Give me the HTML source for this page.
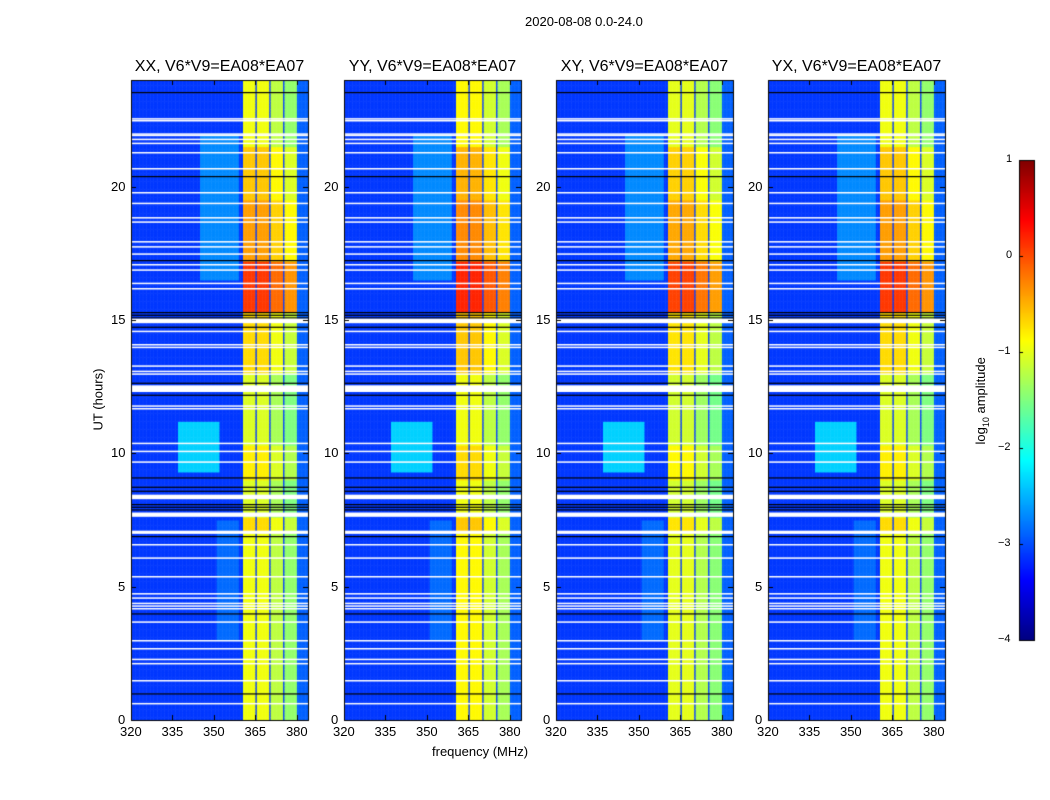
<!DOCTYPE html>
<html><head><meta charset="utf-8"><style>
body{margin:0;background:#fff;width:1050px;height:800px;position:relative;overflow:hidden;font-family:"Liberation Sans",sans-serif;}
.t{position:absolute;font-size:13px;color:#000;white-space:nowrap}
.pt{position:absolute;font-size:16px;white-space:nowrap;text-align:center;width:200px}
canvas{position:absolute}
</style></head><body>
<div class="t" style="left:525px;top:14px">2020-08-08 0.0-24.0</div>
<div class="t" style="left:58px;top:392px;transform:rotate(-90deg);width:80px;text-align:center">UT (hours)</div>
<div class="t" style="left:432px;top:744px">frequency (MHz)</div>
<div class="t" style="left:932px;top:392px;transform:rotate(-90deg);width:100px;text-align:center">log<sub style="font-size:9px">10</sub> amplitude</div>
<div id="root"></div>
<script>
const panelTitles=["XX, V6*V9=EA08*EA07","YY, V6*V9=EA08*EA07","XY, V6*V9=EA08*EA07","YX, V6*V9=EA08*EA07"];
const panelShift=[0,0.1,-0.05,0];
const freqTicks=[320,335,350,365,380];
const timeTicks=[0,5,10,15,20];
const cbarTicks=[1,0,-1,-2,-3,-4];
const bandEdges=[[360.4,365.1],[365.5,369.8],[370.5,374.9],[375.6,380]];
const bandOffsets=[0,0,-0.25,-0.45];
const backgroundLevel=-3.1;
const timeSegStart=[0,7,7.6,9,10.3,13,15.3,17.2,19.5,21.5];
const timeSegEnd=[7,7.6,9,10.3,13,15.3,17.2,19.5,21.5,24];
const timeSegLevel=[-0.95,-0.7,-1.05,-0.8,-1.05,-0.7,0.1,-0.4,-0.6,-0.95];
const haze=[[9.3,11.2,337,352,-2.35],[16.5,22,345,359,-2.7],[3,7.5,351,359,-2.85]];
const whiteFlags=[22.57,22.5,22.0,21.95,21.8,21.65,21.3,20.7,19.8,19.4,18.86,18.7,17.96,17.77,17.5,17.1,16.9,16.4,16.2,14.6,14.1,14.0,13.3,13.1,13.0,11.8,11.7,10.4,10.1,9.7,6.6,6.1,5.4,4.76,4.6,4.4,4.3,4.2,3.7,3.0,2.7,2.3,2.14,1.5,0.64];
const thickWhite=[[14.88,15.05],[12.3,12.55],[8.28,8.45],[7.62,7.78],[6.98,7.1]];
const blackFlags=[23.55,20.4,17.25,15.1,15.2,15.3,14.75,12.65,12.2,9.1,8.6,8.75,7.9,8.0,8.1,6.9,4.0,1.0];
const L=[131,344,556,768],T=80,W=177,H=640,F0=320,F1=384;
const xs=(f,i)=>L[i]+(f-F0)/(F1-F0)*W;
const ys=t=>T+H-(t/24)*H;
function jet(v){v=Math.max(0,Math.min(1,v));const r=Math.min(4*v-1.5,-4*v+4.5),g=Math.min(4*v-0.5,-4*v+3.5),b=Math.min(4*v+0.5,-4*v+2.5);const c=x=>Math.round(255*Math.max(0,Math.min(1,x)));return`rgb(${c(r)},${c(g)},${c(b)})`;}
const cn=v=>jet((v+4)/5);
function value(f,t,i){
  let v=backgroundLevel;
  if(f>380)v=-2.9;
  for(const h of haze){if(t>=h[0]&&t<h[1]&&f>=h[2]&&f<h[3])v=Math.max(v,h[4]);}
  for(let b=0;b<bandEdges.length;b++){if(f>=bandEdges[b][0]&&f<bandEdges[b][1]){let lv=-0.95;for(let s=0;s<timeSegStart.length;s++)if(t>=timeSegStart[s]&&t<timeSegEnd[s])lv=timeSegLevel[s];v=lv+bandOffsets[b]+panelShift[i];}}
  return v;
}
const root=document.getElementById('root');
for(let i=0;i<4;i++){
  const c=document.createElement('canvas');
  
  
  c.width=1050;c.height=800;c.style.left='0';c.style.top='0';
  root.appendChild(c);const g=c.getContext('2d');
  for(let f=F0;f<F1;f+=0.5){for(let t=0;t<24;t+=0.1){g.fillStyle=cn(value(f+0.25,t+0.05,i));const x0=xs(f,i),x1=xs(f+0.5,i),y0=ys(t+0.1),y1=ys(t);g.fillRect(x0,y0,x1-x0+0.5,y1-y0+0.5);}}
  g.fillStyle='#000';for(const t of blackFlags)g.fillRect(L[i],ys(t),W,1.2);
  g.fillStyle='#fff';for(const t of whiteFlags)g.fillRect(L[i],ys(t),W,1.5);
  for(const w of thickWhite)g.fillRect(L[i],ys(w[1]),W,ys(w[0])-ys(w[1]));
  g.strokeStyle='#000';g.lineWidth=1;g.strokeRect(L[i]+0.5,T+0.5,W,H);
  g.beginPath();for(const f of freqTicks){const x=Math.round(xs(f,i))+0.5;g.moveTo(x,T+H);g.lineTo(x,T+H-5);g.moveTo(x,T);g.lineTo(x,T+5);}
  for(const t of timeTicks){const y=Math.round(ys(t))+0.5;g.moveTo(L[i],y);g.lineTo(L[i]+5,y);g.moveTo(L[i]+W,y);g.lineTo(L[i]+W-5,y);}g.stroke();
  const ti=document.createElement('div');ti.className='pt';ti.textContent=panelTitles[i];
  
  
  ti.style.left=(L[i]+W/2-100)+'px';ti.style.top='58px';root.appendChild(ti);
  for(const f of freqTicks){const d=document.createElement('div');d.className='t';d.textContent=f;
    
    
    d.style.left=(xs(f,i)-11)+'px';d.style.top='724px';root.appendChild(d);}
  for(const t of timeTicks){const d=document.createElement('div');d.className='t';d.textContent=t;
    
    
    d.style.left=(L[i]-5-(t>=10?15:8))+'px';d.style.top=(ys(t)-8)+'px';root.appendChild(d);}
}
const cb=document.createElement('canvas');


cb.width=1050;cb.height=800;root.appendChild(cb);const cg=cb.getContext('2d');
for(let y=160;y<640;y++){cg.fillStyle=jet(1-(y-160)/480);cg.fillRect(1019,y,15,1);}
cg.strokeStyle='#000';cg.strokeRect(1019.5,160.5,15,480);
for(const v of cbarTicks){const y=160+(1-v)/5*480;cg.beginPath();cg.moveTo(1019,Math.round(y)+0.5);cg.lineTo(1023,Math.round(y)+0.5);cg.stroke();
  const d=document.createElement('div');d.className='t';d.style.fontSize='11px';d.textContent=v<0?'\u2212'+(-v):v;
  
  
  d.style.left=(v<0?998:1006)+'px';d.style.top=(y-7)+'px';root.appendChild(d);}
</script>
</body></html>
